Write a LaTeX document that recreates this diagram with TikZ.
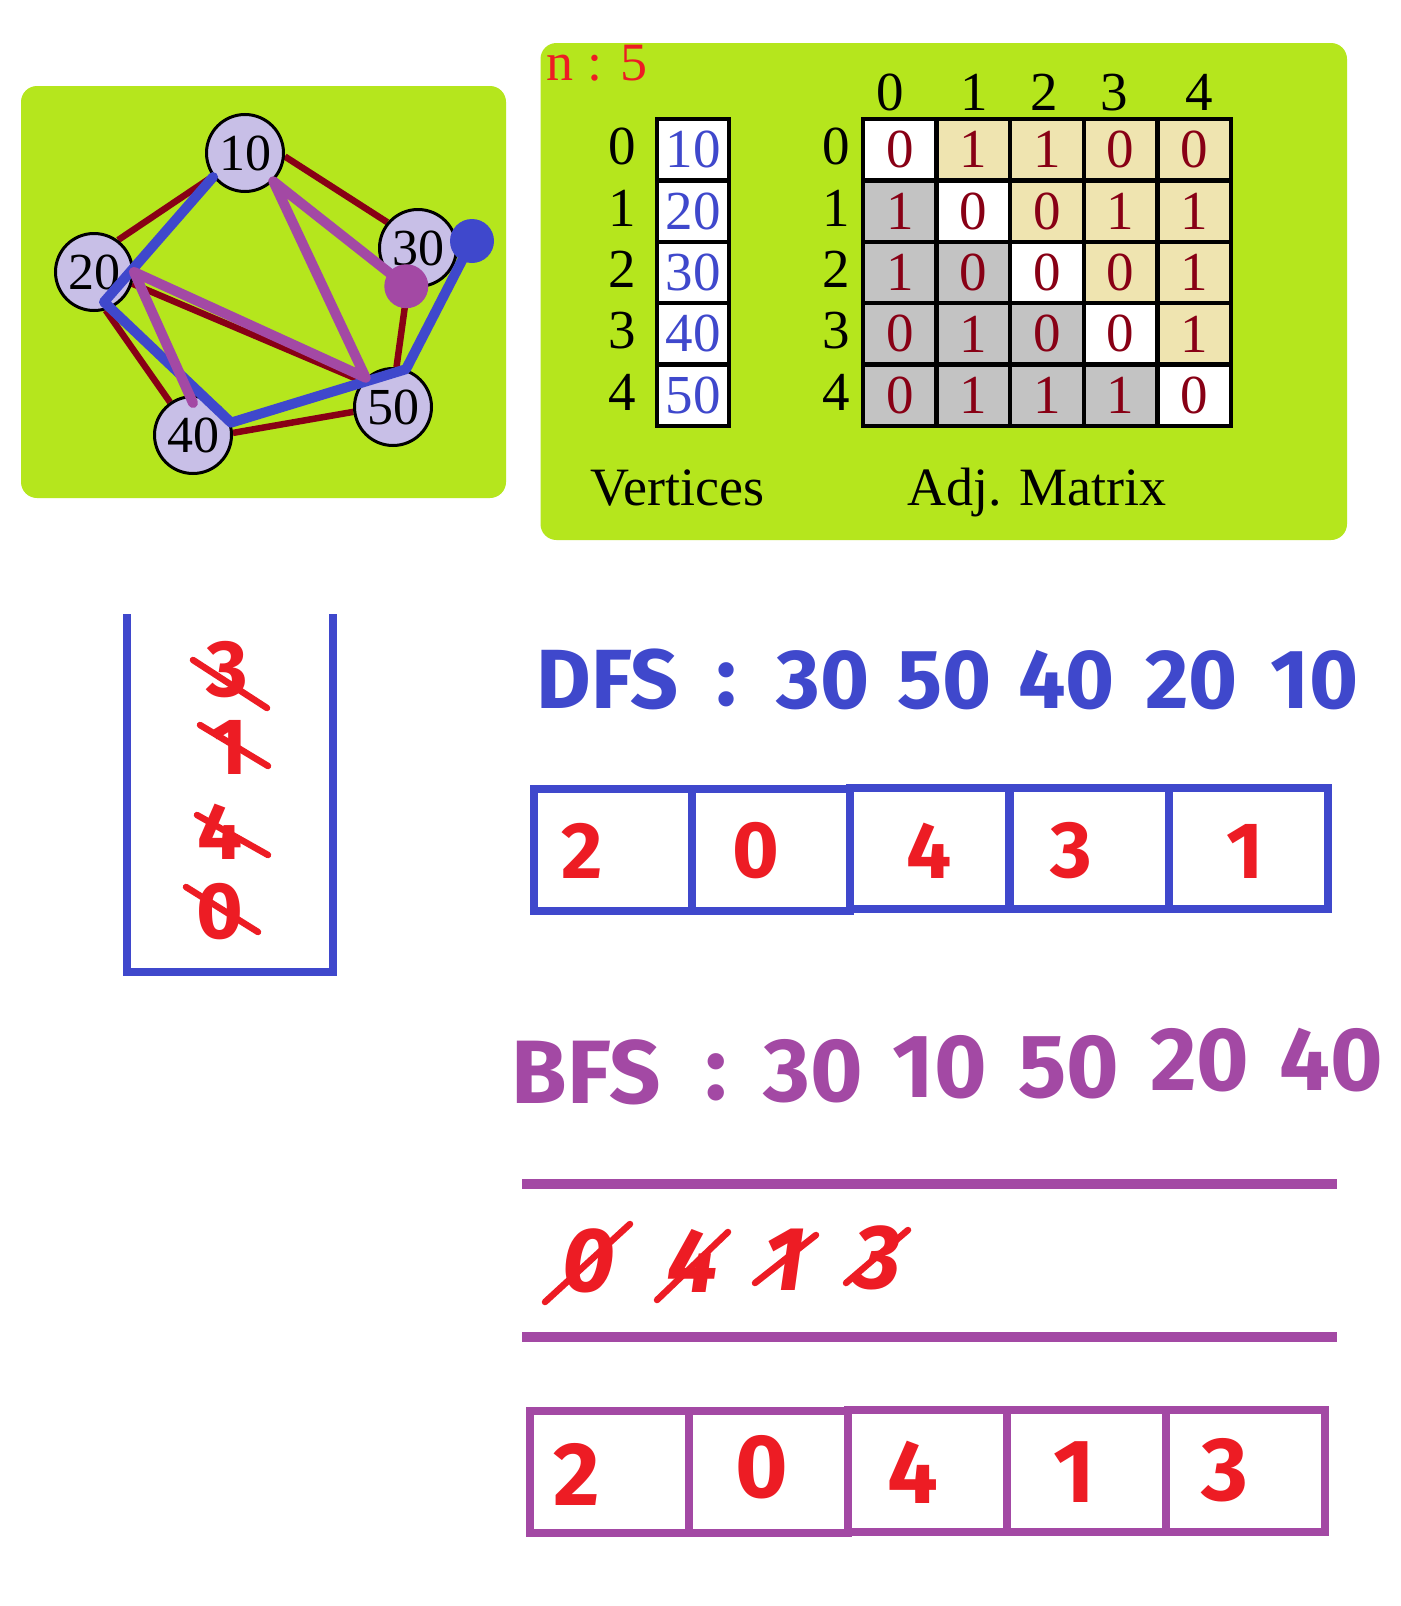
\documentclass[tikz,border=0pt]{standalone}
\usepackage{fontspec}
\setmainfont{Liberation Serif}
\newfontfamily\comicfont{Fira Sans}
\usetikzlibrary{calc,backgrounds}
\definecolor{pntlime}{HTML}{B5E61D}
\definecolor{pntdkred}{HTML}{880015}
\definecolor{pntred}{HTML}{ED1C24}
\definecolor{pntblue}{HTML}{3F48CC}
\definecolor{pntplum}{HTML}{A349A4}
\definecolor{pntlav}{HTML}{C8BFE7}
\definecolor{pntwheat}{HTML}{EFE4B0}
\definecolor{pntgrey}{HTML}{C3C3C3}
\newcommand{\pxsize}[1]{\fontsize{#1pt}{#1pt}\selectfont}
\tikzset{
  panel/.style={fill=pntlime,rounded corners=16pt},
  vtx/.style={circle,draw=black,line width=3pt,fill=pntlav,minimum size=77pt,
              inner sep=0pt,font=\pxsize{52}},
  redge/.style={draw=pntdkred,line width=6.5pt},
  walk/.style={line width=10pt,line join=round,line cap=round},
  walkdot/.style={circle,inner sep=0pt,minimum size=44pt,fill=#1},
  mcell/.style={draw=black,line width=4.5pt,fill=#1,minimum width=73.6pt,
                minimum height=61.4pt,inner sep=0pt,text=pntdkred,font=\pxsize{55}},
  vcell/.style={draw=black,line width=4.5pt,fill=white,minimum width=72pt,
                minimum height=61.4pt,inner sep=0pt,text=pntblue,font=\pxsize{55}},
  idx/.style={inner sep=0pt,font=\pxsize{55}},
  caption/.style={anchor=base,inner sep=0pt,font=\pxsize{54}},
  hand/.style={inner sep=0pt,font=\comicfont\bfseries\pxsize{#1}},
  handit/.style={inner sep=0pt,font=\comicfont\bfseries\itshape\pxsize{#1}},
  strike/.style={draw=pntred,line width=6.5pt,line cap=round},
  qcell/.style={draw=#1,line width=8pt,minimum width=159pt,minimum height=122pt,inner sep=0pt},
  rail/.style={draw=pntplum,line width=10pt},
}

\begin{document}
\begin{tikzpicture}[x=1pt,y=-1pt]
  \useasboundingbox (0,0) rectangle (1400,1606);

  % graph
  \node[vtx] (n10) at (245,153) {10};
  \node[vtx] (n20) at (94,272)  {20};
  \node[vtx] (n30) at (418,248) {30};
  \node[vtx] (n40) at (193,435) {40};
  \node[vtx] (n50) at (393,407) {50};

  \begin{scope}[on background layer]
    \fill[white] (0,0) rectangle (1400,1606);
    \fill[panel] (21,86) rectangle (506,498);
    \draw[redge] (n10.-5) -- (n30.140);
    \draw[redge] (n20.53) -- (n10.216);
    \draw[redge] (n20.-73) -- (n40.125);
    \draw[redge] (n20.-17) -- (n50.140);
    \draw[redge] (n40.3) -- (n50.187);
    \draw[redge] (n30.-105) -- (n50.85);
  \end{scope}

  \node[walkdot=pntblue] (dfsdot) at ([xshift=54pt,yshift=7pt]n30.center) {};
  \draw[walk,draw=pntblue] (dfsdot.center) -- (n50.71) -- (n40.18)
    -- ([xshift=10pt,yshift=-30pt]n20.center) -- (n10.217);
  \node[walkdot=pntplum] (bfsdot) at (n30.253) {};
  \draw[walk,draw=pntplum] (bfsdot.center) -- (n10.-45) -- (n50.133)
    -- (n20.east) -- ([yshift=-8pt]n40.north);

  % vertices and adjacency matrix
  \fill[panel] (540.5,43) rectangle (1347,540);
  \node[caption,text=pntred] (nsize) at (597,80) {n : 5};
  \foreach \v [count=\k from 0] in {10,20,30,40,50} {
    \node[idx] (vi\k) at (622,{146.7+61.4*\k}) {\k};
    \node[vcell] (v\k) at (693,{149.7+61.4*\k}) {\v};
    \node[idx] (ri\k) at (836,{146.7+61.4*\k}) {\k};
  }
  \foreach \k/\cx in {0/890,1/974,2/1044,3/1114,4/1199}
    \node[idx] (ci\k) at (\cx,92.5) {\k};
  \foreach \row [count=\i from 0] in {{0,1,1,0,0},{1,0,0,1,1},{1,0,0,0,1},{0,1,0,0,1},{0,1,1,1,0}} {
    \foreach \val [count=\j from 0] in \row {
      \ifnum\j=\i \def\cfill{white}\else\ifnum\j>\i \def\cfill{pntwheat}\else\def\cfill{pntgrey}\fi\fi
      \node[mcell=\cfill] (m\i\j) at ({899.8+73.6*\j},{149.7+61.4*\i}) {\val};
    }
  }
  \node[caption] (vcap) at (677,505) {Vertices};
  \node[caption] (acap) at (1037,505) {Adj. Matrix};

  % stack
  \draw[draw=pntblue,line width=8pt] (127,614) -- (127,972) -- (333,972) -- (333,614);
  \node[hand=80,text=pntred] (st3) at (227,670) {3};
  \node[hand=80,text=pntred] (st1) at (229,747) {1};
  \node[hand=80,text=pntred] (st4) at (220,832) {4};
  \node[hand=80,text=pntred] (st0) at (220,912) {0};
  \draw[strike] ($(st3)+(-34,-10)$) -- ($(st3)+(40,38)$);
  \draw[strike] ($(st1)+(-29,-22)$) -- ($(st1)+(39,19)$);
  \draw[strike] ($(st4)+(-23,-17)$) -- ($(st4)+(48,23)$);
  \draw[strike] ($(st0)+(-34,-25)$) -- ($(st0)+(38,20)$);

  % DFS
  \node[hand=84,text=pntblue,anchor=base] (dfs)  at (607.5,708) {DFS};
  \node[hand=84,text=pntblue,anchor=base] (dfsc) at (727,705)   {:};
  \foreach \w/\wx [count=\k] in {30/823,50/945,40/1066.5,20/1191.5,10/1314.5}
    \node[hand=84,text=pntblue,anchor=base] (dfsw\k) at (\wx,708) {\w};
  \node[qcell=pntblue,minimum width=158pt] (d0) at (613,850) {};
  \node[qcell=pntblue,minimum width=158pt] (d1) at (771,850) {};
  \node[qcell=pntblue,minimum height=121pt] (d2) at (929.5,848.5) {};
  \node[qcell=pntblue,minimum height=121pt] (d3) at (1089,848.5) {};
  \node[qcell=pntblue,minimum height=121pt] (d4) at (1248,848.5) {};
  \foreach \w/\wx [count=\k] in {2/582,0/756,4/929,3/1071,1/1245}
    \node[hand=80,text=pntred] (dv\k) at (\wx,851) {\w};

  % BFS
  \node[hand=90,text=pntplum,anchor=base] (bfs)  at (586,1103) {BFS};
  \node[hand=90,text=pntplum,anchor=base] (bfsc) at (716,1099) {:};
  \foreach \w/\wx/\wy [count=\k] in {30/813.5/1101,10/939.5/1097,50/1069/1097,20/1200/1090,40/1331/1090}
    \node[hand=90,text=pntplum,anchor=base] (bfsw\k) at (\wx,\wy) {\w};

  \coordinate (qtl) at (522,1184);
  \coordinate (qtr) at (1337,1184);
  \coordinate (qbl) at (522,1337);
  \coordinate (qbr) at (1337,1337);
  \draw[rail] (qtl) -- (qtr);
  \draw[rail] (qbl) -- (qbr);
  \node[handit=91,text=pntred] (q0) at (589,1261) {0};
  \node[handit=91,text=pntred] (q4) at (693,1261) {4};
  \node[handit=91,text=pntred] (q1) at (785,1260) {1};
  \node[handit=91,text=pntred] (q3) at (878,1258) {3};
  \draw[strike] ($(q0)+(-44,41)$) -- ($(q0)+(41,-37)$);
  \draw[strike] ($(q4)+(-36,39)$) -- ($(q4)+(35,-29)$);
  \draw[strike] ($(q1)+(-30,23)$) -- ($(q1)+(31,-25)$);
  \draw[strike] ($(q3)+(-32,25)$) -- ($(q3)+(30,-28)$);

  \node[qcell=pntplum] (b0) at (609.5,1472) {};
  \node[qcell=pntplum] (b1) at (768,1472) {};
  \node[qcell=pntplum] (b2) at (927,1470.6) {};
  \node[qcell=pntplum] (b3) at (1086.5,1470.6) {};
  \node[qcell=pntplum] (b4) at (1245.5,1470.6) {};
  \foreach \w/\wx/\wy [count=\k] in {2/576.5/1474,0/762/1467,4/913/1472,1/1074/1472,3/1225/1470}
    \node[hand=90,text=pntred] (bv\k) at (\wx,\wy) {\w};
\end{tikzpicture}
\end{document}
